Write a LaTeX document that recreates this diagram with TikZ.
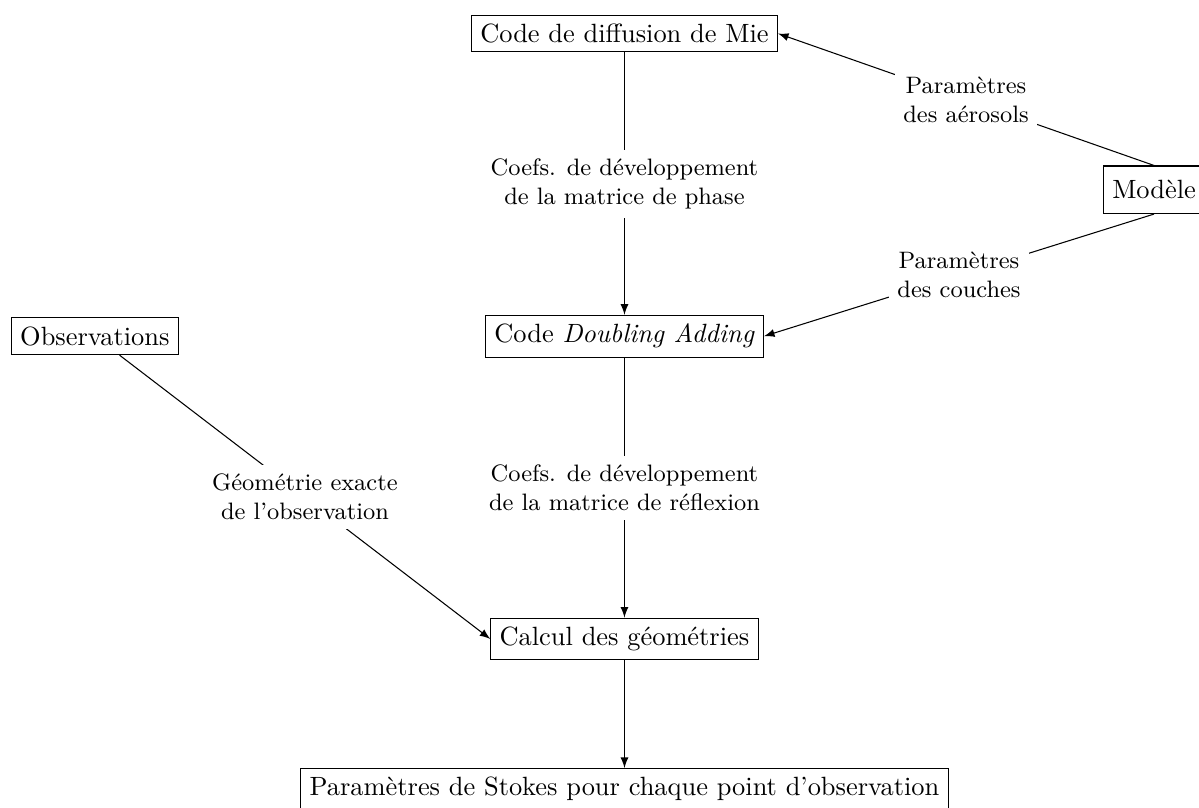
\documentclass[tikz,border=0pt]{standalone}
\usepackage{fontspec}
\begin{document}
\begin{tikzpicture}[>=latex,
  boite/.style={draw, rectangle},
  etiq/.style={fill=white, font=\small, align=center}]
  \useasboundingbox (-8.313,0.446) rectangle (7.648,-10.297);

  \node[boite] (mie) at (0,0) {Code de diffusion de Mie};
  \node[boite] (da) at (0,-4.03) {Code \emph{Doubling Adding}};
  \node[boite] (geom) at (0,-8.06) {Calcul des géométries};
  \node[boite] (stokes) at (0,-10.06) {Paramètres de Stokes pour chaque point d’observation};
  \node[boite, minimum height=18pt] (modele) at (7.05,-2.08) {Modèle};
  \node[boite] (obs) at (-7.05,-4.03) {Observations};

  \draw[->] (mie) -- node[etiq] {Coefs. de développement\\de la matrice de phase} (da);
  \draw[->] (da) -- node[etiq] {Coefs. de développement\\de la matrice de réflexion} (geom);
  \draw[->] (geom) -- (stokes);
  \draw[->] (modele.north) -- node[etiq] {Paramètres\\des aérosols} (mie.east);
  \draw[->] (modele.south) -- node[etiq] {Paramètres\\des couches} (da.east);
  \draw[->] (obs) -- node[etiq] {Géométrie exacte\\de l’observation} (geom.west);
\end{tikzpicture}
\end{document}
